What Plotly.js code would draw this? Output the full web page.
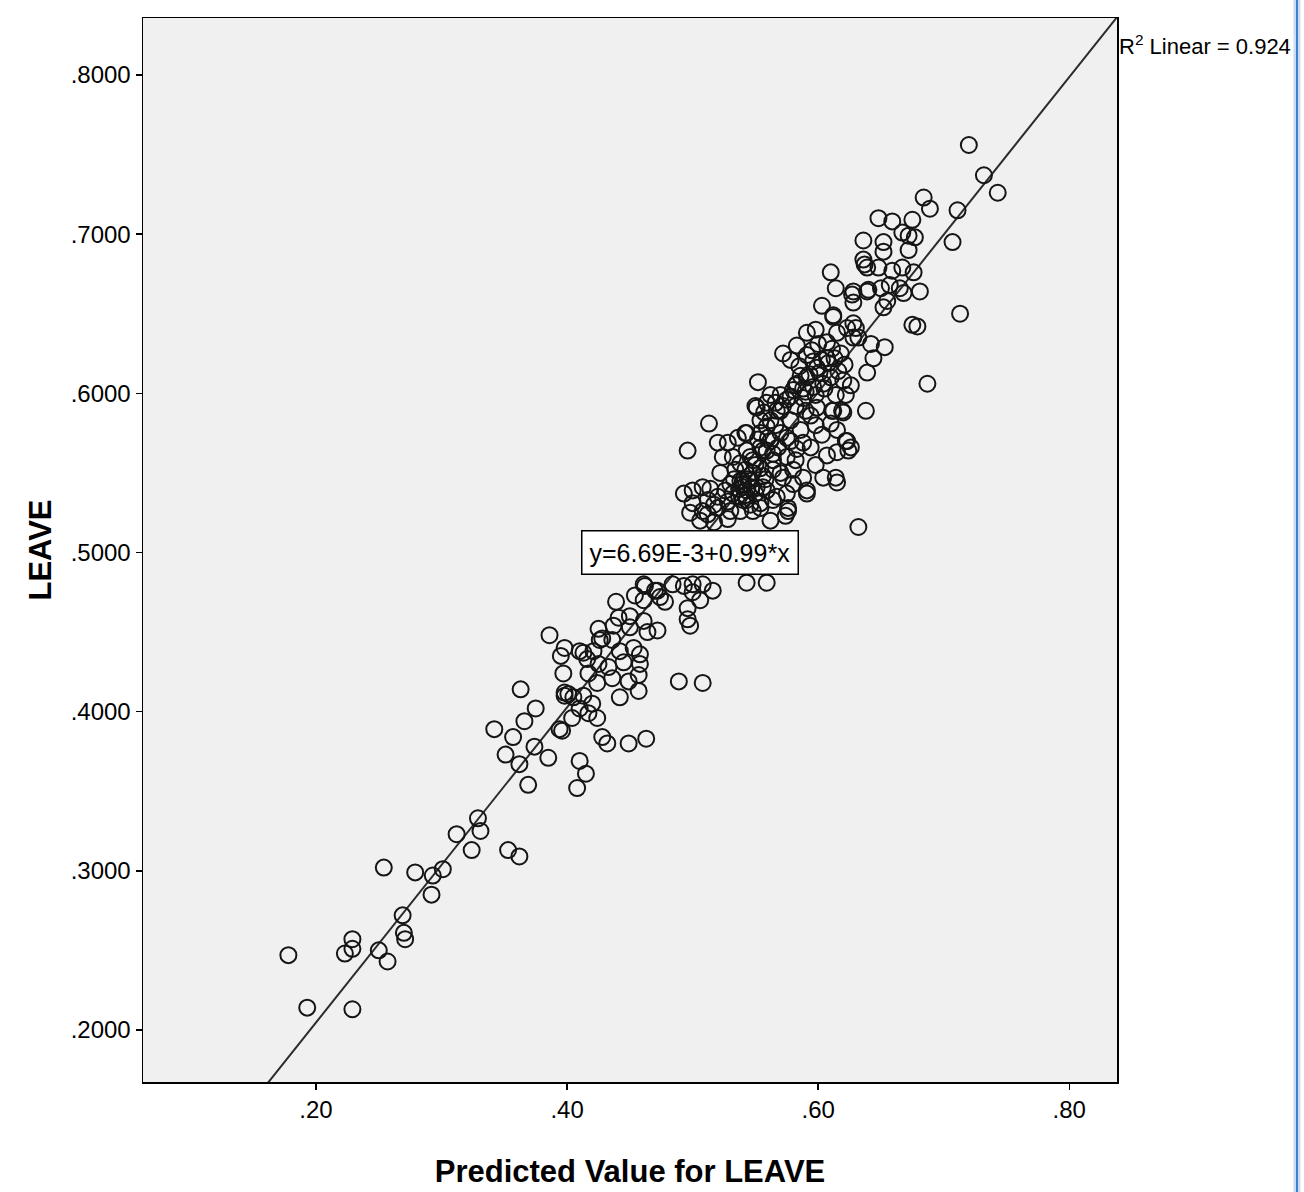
<!DOCTYPE html>
<html>
<head>
<meta charset="utf-8">
<script src="https://cdn.plot.ly/plotly-3.0.1.min.js"></script>
<style>
  html, body { margin: 0; padding: 0; background: #ffffff; }
  #chart { width: 1304px; height: 1192px; }
</style>
</head>
<body>
<div id="chart"></div>
<script>
// Predicted Value for LEAVE (x) and observed LEAVE (y)
const predicted = [
  0.178,0.193,0.229,0.223,0.229,0.229,0.250,0.257,0.254,0.269,0.270,0.271,0.279,0.293,0.292,0.301,
  0.312,0.324,0.329,0.331,0.353,0.362,
  0.342,0.351,0.357,0.362,0.363,0.366,0.375,0.374,0.369,0.385,0.386,0.398,0.395,0.397,0.398,0.401,
  0.405,0.404,0.394,0.410,0.415,0.408,0.410,
  0.439,0.413,0.425,0.428,0.426,0.437,0.441,0.450,0.454,0.462,0.472,0.461,0.478,0.461,0.450,0.464,
  0.472,0.436,0.442,0.453,0.458,0.421,0.416,0.425,0.433,0.445,0.458,0.417,0.436,0.449,0.457,0.424,
  0.398,0.413,0.420,0.442,0.457,0.410,0.417,0.424,0.396,0.428,0.432,0.449,0.463,0.489,0.508,
  0.493,0.500,0.508,0.500,0.496,0.496,0.498,0.484,0.474,0.470,0.461,0.543,0.559,
  0.496,0.513,0.520,0.528,0.536,0.542,0.524,0.522,0.532,0.538,0.493,0.500,0.508,0.514,0.520,0.500,
  0.512,0.498,0.508,0.520,0.530,0.538,0.532,0.540,0.543,0.551,0.551,0.556,0.554,0.546,0.538,0.548,
  0.530,0.554,0.562,0.570,0.559,0.564,0.570,0.580,0.588,0.580,0.591,0.576,0.567,0.559,0.554,
  0.540,0.543,0.546,0.542,0.547,0.537,0.550,0.544,
  0.603,0.612,0.628,0.591,0.598,0.583,0.572,0.578,0.591,0.600,0.607,0.615,0.623,0.628,0.618,0.607,
  0.599,0.591,0.583,0.552,0.550,0.559,0.567,0.575,0.580,0.588,0.596,0.604,0.610,0.620,0.599,0.611,
  0.619,0.610,0.615,0.623,0.624,0.615,0.594,0.588,0.578,0.570,0.559,0.554,0.543,0.543,0.554,0.564,
  0.575,0.564,0.572,0.591,0.604,0.615,0.576,0.540,0.548,0.556,0.554,0.564,0.575,0.540,
  0.648,0.659,0.675,0.689,0.684,0.711,0.707,0.636,0.652,0.667,0.672,0.677,0.652,0.672,0.636,0.639,
  0.648,0.659,0.667,0.676,0.628,0.627,0.640,0.650,0.657,0.665,0.668,0.681,0.655,0.652,0.610,0.614,
  0.713,0.675,0.679,0.612,0.630,0.632,0.642,0.653,0.644,0.639,0.687,0.638,0.612,0.620,0.622,0.626,
  0.614,0.632,0.720,0.732,0.743,0.637,0.639,0.628,
  0.506,0.517,0.528,0.562,0.574,0.516,0.506,
  0.582,0.590,0.598,0.586,0.595,0.603,0.611,0.621,0.614,0.622,0.616,0.626,0.542,0.546,0.537,0.550,
  0.558,0.534,0.526,0.562,0.570,0.562,0.566,0.578,0.586,0.598,0.603,0.594,0.582,0.598,0.607,0.582,
  0.590,
  0.585,0.593,0.601,0.608,0.613,0.596,0.605,0.588,0.578,0.572,0.566,0.557,0.560,0.568,0.575,0.583,
  0.552,0.548,0.556,0.533,0.528,0.517,0.512
];
const leave = [
  0.247,0.214,0.213,0.248,0.257,0.251,0.250,0.243,0.302,0.272,0.261,0.257,0.299,0.297,0.285,0.301,
  0.323,0.313,0.333,0.325,0.313,0.309,
  0.389,0.373,0.384,0.367,0.414,0.394,0.402,0.378,0.354,0.371,0.448,0.440,0.435,0.424,0.410,0.411,
  0.409,0.396,0.389,0.369,0.361,0.352,0.438,
  0.469,0.437,0.452,0.446,0.445,0.454,0.459,0.460,0.473,0.479,0.476,0.470,0.469,0.457,0.453,0.450,
  0.451,0.445,0.438,0.440,0.436,0.438,0.433,0.430,0.428,0.431,0.430,0.424,0.421,0.419,0.423,0.418,
  0.412,0.410,0.405,0.409,0.413,0.402,0.399,0.396,0.388,0.384,0.380,0.380,0.383,0.419,0.418,
  0.479,0.480,0.480,0.475,0.465,0.458,0.454,0.480,0.472,0.476,0.480,0.481,0.481,
  0.564,0.581,0.569,0.569,0.572,0.575,0.560,0.550,0.560,0.556,0.537,0.539,0.541,0.540,0.535,0.531,
  0.533,0.525,0.526,0.528,0.543,0.545,0.537,0.541,0.533,0.541,0.591,0.564,0.553,0.560,0.526,0.526,
  0.526,0.575,0.583,0.589,0.564,0.558,0.550,0.552,0.547,0.543,0.539,0.526,0.535,0.539,0.531,
  0.543,0.539,0.545,0.536,0.541,0.540,0.537,0.546,
  0.655,0.649,0.657,0.638,0.640,0.630,0.625,0.621,0.624,0.631,0.632,0.638,0.641,0.635,0.625,0.622,
  0.616,0.610,0.606,0.607,0.592,0.594,0.589,0.596,0.602,0.597,0.604,0.606,0.610,0.608,0.591,0.589,
  0.589,0.581,0.577,0.570,0.564,0.563,0.566,0.569,0.570,0.575,0.579,0.583,0.575,0.564,0.566,0.562,
  0.560,0.552,0.547,0.537,0.547,0.544,0.528,0.545,0.550,0.541,0.528,0.533,0.537,0.533,
  0.710,0.708,0.709,0.716,0.723,0.715,0.695,0.696,0.695,0.701,0.699,0.698,0.689,0.690,0.684,0.679,
  0.679,0.677,0.679,0.676,0.664,0.662,0.665,0.666,0.668,0.666,0.663,0.664,0.658,0.654,0.676,0.666,
  0.650,0.643,0.642,0.648,0.641,0.635,0.631,0.629,0.622,0.613,0.606,0.589,0.589,0.588,0.570,0.566,
  0.547,0.516,0.756,0.737,0.726,0.681,0.664,0.644,
  0.520,0.519,0.521,0.520,0.523,0.476,0.470,
  0.605,0.601,0.599,0.611,0.627,0.621,0.628,0.618,0.599,0.599,0.614,0.605,0.552,0.530,0.535,0.555,
  0.546,0.552,0.539,0.570,0.599,0.599,0.580,0.583,0.577,0.580,0.574,0.586,0.558,0.555,0.561,0.592,
  0.589,
  0.617,0.612,0.613,0.619,0.622,0.620,0.603,0.603,0.598,0.592,0.594,0.588,0.572,0.566,0.572,0.565,
  0.571,0.558,0.548,0.546,0.532,0.530,0.524
];

// Fit line (SPSS output): y = 6.69E-3 + 0.99*x, R^2 = 0.924
const intercept = 0.00669;
const slope = 0.99;
const r2Text = 'R<sup>2</sup> Linear = 0.924';
const fitText = 'y=6.69E-3+0.99*x';

const xRange = [0.0622, 0.838];
const yRange = [0.1673, 0.8358];
const xTickVals = [0.2, 0.4, 0.6, 0.8];
const xTickText = ['.20', '.40', '.60', '.80'];
const yTickVals = [0.2, 0.3, 0.4, 0.5, 0.6, 0.7, 0.8];
const yTickText = ['.2000', '.3000', '.4000', '.5000', '.6000', '.7000', '.8000'];

const lineX = xRange.slice();
const lineY = lineX.map(v => intercept + slope * v);

const FONT = '"Liberation Sans", Arial, sans-serif';

const traces = [
  {
    type: 'scatter', mode: 'lines', x: lineX, y: lineY,
    line: { color: '#2b2b2b', width: 2 }, hoverinfo: 'skip', showlegend: false
  },
  {
    type: 'scatter', mode: 'markers', x: predicted, y: leave,
    marker: { symbol: 'circle-open', size: 16, color: '#151515', line: { width: 2, color: '#151515' } },
    showlegend: false
  }
];

const layout = {
  width: 1304, height: 1192,
  margin: { l: 143, r: 187, t: 18, b: 110 },
  paper_bgcolor: '#ffffff',
  plot_bgcolor: '#f0f0f0',
  font: { family: FONT, color: '#000000', size: 24 },
  showlegend: false,
  xaxis: {
    range: xRange, tickvals: xTickVals, ticktext: xTickText,
    ticks: 'outside', ticklen: 6, tickwidth: 1.5, tickcolor: '#000',
    showline: true, mirror: true, linecolor: '#000', linewidth: 1.5,
    showgrid: false, zeroline: false,
    tickfont: { family: FONT, size: 24, color: '#000' },
    title: { text: '<b>Predicted Value for LEAVE</b>', font: { family: FONT, size: 31, color: '#000' }, standoff: 38 }
  },
  yaxis: {
    range: yRange, tickvals: yTickVals, ticktext: yTickText,
    ticks: 'outside', ticklen: 6, tickwidth: 1.5, tickcolor: '#000',
    showline: true, mirror: true, linecolor: '#000', linewidth: 1.5,
    showgrid: false, zeroline: false,
    tickfont: { family: FONT, size: 24, color: '#000' },
    title: { text: '<b>LEAVE</b>', font: { family: FONT, size: 31, color: '#000' }, standoff: 10 }
  },
  annotations: [
    {
      x: 0.498, y: 0.5, xref: 'x', yref: 'y', text: fitText, showarrow: false,
      font: { family: FONT, size: 25, color: '#000' },
      bgcolor: '#ffffff', bordercolor: '#000000', borderwidth: 1.5, borderpad: 7
    },
    {
      x: 1, y: 0.9746, xref: 'paper', yref: 'paper', xanchor: 'left', yanchor: 'middle',
      text: r2Text, showarrow: false,
      font: { family: FONT, size: 22, color: '#000' }
    }
  ],
  shapes: [
    { type: 'line', xref: 'paper', yref: 'paper', x0: 1.1848, x1: 1.1848, y0: -0.104, y1: 1.018,
      line: { color: 'rgba(140,180,230,0.45)', width: 7 } },
    { type: 'line', xref: 'paper', yref: 'paper', x0: 1.1848, x1: 1.1848, y0: -0.104, y1: 1.018,
      line: { color: '#3f7fd0', width: 2 } }
  ]
};

Plotly.newPlot('chart', traces, layout, { displayModeBar: false, staticPlot: true });
</script>
</body>
</html>
